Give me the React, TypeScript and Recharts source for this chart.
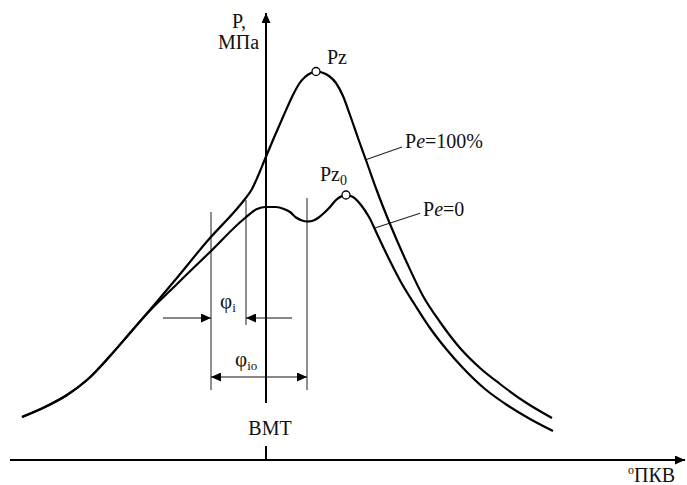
import { ComposedChart, Line, ReferenceDot, ReferenceLine, XAxis, YAxis } from "recharts";

// crank angle, degrees from TDC (ВМТ), and cylinder pressure, MPa
const fullLoadAngle = [
  -61, -55.25, -49.75, -44.75, -39, -34, -30.75, -22.5, -14, -7.75, -5.25, -3.5, -2, -0.25, 4.25,
  6.5, 8.25, 9.75, 11.25, 12.5, 14, 15.75, 17.5, 19.25, 21, 23, 25.25, 27.75, 31, 35.25, 39.25,
  43.5, 48.5, 53.5, 58.5, 64.75, 71.5,
];
const fullLoadP = [
  1.075, 1.325, 1.625, 2.0, 2.6, 3.175, 3.55, 4.525, 5.55, 6.225, 6.525, 6.775, 7.1, 7.525, 8.575,
  9.075, 9.4, 9.575, 9.675, 9.713, 9.688, 9.6, 9.425, 9.1, 8.625, 8.05, 7.425, 6.725, 5.9, 4.925,
  4.1, 3.45, 2.8, 2.3, 1.9, 1.45, 1.05,
];
const idleAngle = [
  -61, -55.25, -49.75, -44.75, -39, -34, -30.75, -22.5, -14, -5.25, -2.25, 0, 2.5, 4.5, 6, 7.5, 9,
  10.25, 11.5, 13, 14.5, 16, 17.5, 18.75, 20, 21.75, 23.75, 25.75, 28, 31, 34, 37.25, 41, 45.25,
  49.25, 54.75, 60.25, 66, 71.75,
];
const idleP = [
  1.075, 1.325, 1.625, 2.0, 2.6, 3.175, 3.55, 4.375, 5.2, 6.05, 6.275, 6.325, 6.325, 6.275, 6.2,
  6.063, 5.988, 5.963, 5.975, 6.05, 6.175, 6.325, 6.5, 6.588, 6.625, 6.575, 6.375, 6.075, 5.6,
  4.975, 4.4, 3.875, 3.3, 2.75, 2.3, 1.775, 1.375, 1.025, 0.725,
];

// marker angles: start of injection, start of combustion at full load and at idle
const injectionStart = -13.75;
const ignitionFull = -5;
const ignitionIdle = 10.25;

const fullLoad = fullLoadAngle.map((deg, i) => ({ deg, p: fullLoadP[i] }));
const idle = idleAngle.map((deg, i) => ({ deg, p: idleP[i] }));
const peakOf = (pts: { deg: number; p: number }[]) =>
  pts.reduce((best, pt) => (pt.p > best.p ? pt : best), pts[0]);
const pz = peakOf(fullLoad);
const pz0 = peakOf(idle.filter((pt) => pt.deg > 15));

const FONT = '"Liberation Serif", "Times New Roman", serif';

const seg =
  (width: number, color: string, start?: string, end?: string) =>
  (p: { x1?: number; y1?: number; x2?: number; y2?: number }) => (
    <line
      x1={p.x1}
      y1={p.y1}
      x2={p.x2}
      y2={p.y2}
      stroke={color}
      strokeWidth={width}
      markerStart={start ? `url(#${start})` : undefined}
      markerEnd={end ? `url(#${end})` : undefined}
    />
  );

const label =
  (content: React.ReactNode, anchor: "start" | "middle" = "start") =>
  (p: { cx?: number; cy?: number }) => (
    <text x={p.cx} y={p.cy} fontFamily={FONT} fontSize={20} fill="#111" textAnchor={anchor}>
      {content}
    </text>
  );

export default function App() {
  return (
    <div style={{ position: "absolute", left: 0, top: 0, background: "#fff" }}>
      <ComposedChart width={687} height={485} margin={{ top: 0, right: 0, bottom: 0, left: 0 }}>
        <defs>
          <marker
            id="tip"
            viewBox="0 0 10 9"
            refX="10"
            refY="4.5"
            markerWidth="10"
            markerHeight="9"
            markerUnits="userSpaceOnUse"
            orient="auto-start-reverse"
          >
            <path d="M0,0 L10,4.5 L0,9 Z" fill="#000" />
          </marker>
        </defs>
        <XAxis type="number" dataKey="deg" domain={[-66.5, 105.25]} allowDataOverflow hide />
        <YAxis type="number" dataKey="p" domain={[-0.625, 11.5]} allowDataOverflow hide />

        {/* axes */}
        <ReferenceLine segment={[{ x: -64, y: 0 }, { x: 104.75, y: 0 }]} shape={seg(2, "#000", undefined, "tip")} />
        <ReferenceLine segment={[{ x: 0, y: 1.425 }, { x: 0, y: 11.175 }]} shape={seg(2, "#000", undefined, "tip")} />
        <ReferenceLine segment={[{ x: 0, y: 0 }, { x: 0, y: 0.35 }]} shape={seg(2, "#000")} />

        {/* angle markers */}
        <ReferenceLine segment={[{ x: injectionStart, y: 1.75 }, { x: injectionStart, y: 6.2 }]} shape={seg(1.1, "#333")} />
        <ReferenceLine segment={[{ x: ignitionFull, y: 3.375 }, { x: ignitionFull, y: 6.5 }]} shape={seg(1.1, "#333")} />
        <ReferenceLine segment={[{ x: ignitionIdle, y: 1.75 }, { x: ignitionIdle, y: 6.55 }]} shape={seg(1.1, "#333")} />
        <ReferenceLine segment={[{ x: -25.75, y: 3.55 }, { x: injectionStart, y: 3.55 }]} shape={seg(1.2, "#111", undefined, "tip")} />
        <ReferenceLine segment={[{ x: 6.5, y: 3.55 }, { x: ignitionFull, y: 3.55 }]} shape={seg(1.2, "#111", undefined, "tip")} />
        <ReferenceLine segment={[{ x: injectionStart, y: 2.075 }, { x: ignitionIdle, y: 2.075 }]} shape={seg(1.2, "#111", "tip", "tip")} />

        {/* leaders */}
        <ReferenceLine segment={[{ x: 24.75, y: 7.5 }, { x: 34, y: 7.825 }]} shape={seg(1.1, "#222")} />
        <ReferenceLine segment={[{ x: 27.25, y: 5.8 }, { x: 38.5, y: 6.17 }]} shape={seg(1.1, "#222")} />

        <Line data={fullLoad} dataKey="p" type="monotone" stroke="#000" strokeWidth={2.2} dot={false} activeDot={false} isAnimationActive={false} />
        <Line data={idle} dataKey="p" type="monotone" stroke="#000" strokeWidth={2.2} dot={false} activeDot={false} isAnimationActive={false} />

        <ReferenceDot x={pz.deg} y={pz.p} r={4} fill="#fff" stroke="#000" strokeWidth={1.3} />
        <ReferenceDot x={pz0.deg} y={pz0.p} r={4} fill="#fff" stroke="#000" strokeWidth={1.3} />

        {/* texts */}
        <ReferenceDot x={-8.5} y={10.8} r={0} shape={label("P,")} />
        <ReferenceDot x={-12} y={10.275} r={0} shape={label("МПа")} />
        <ReferenceDot x={15.25} y={9.9} r={0} shape={label("Pz")} />
        <ReferenceDot
          x={34.75}
          y={7.8}
          r={0}
          shape={label(
            <>
              <tspan>P</tspan>
              <tspan fontStyle="italic">e</tspan>
              <tspan>=100%</tspan>
            </>,
          )}
        />
        <ReferenceDot
          x={13.5}
          y={6.975}
          r={0}
          shape={label(
            <>
              <tspan>Pz</tspan>
              <tspan fontSize={14} dy={4}>0</tspan>
            </>,
          )}
        />
        <ReferenceDot
          x={39.25}
          y={6.1}
          r={0}
          shape={label(
            <>
              <tspan>P</tspan>
              <tspan fontStyle="italic">e</tspan>
              <tspan>=0</tspan>
            </>,
          )}
        />
        <ReferenceDot
          x={-11.5}
          y={3.8}
          r={0}
          shape={label(
            <>
              <tspan fontSize={21}>φ</tspan>
              <tspan fontSize={13} dy={4}>i</tspan>
            </>,
          )}
        />
        <ReferenceDot
          x={-7.75}
          y={2.35}
          r={0}
          shape={label(
            <>
              <tspan fontSize={21}>φ</tspan>
              <tspan fontSize={13} dy={4}>io</tspan>
            </>,
          )}
        />
        <ReferenceDot x={1} y={0.625} r={0} shape={label("ВМТ", "middle")} />
        <ReferenceDot
          x={90.5}
          y={-0.55}
          r={0}
          shape={label(
            <>
              <tspan fontSize={12} dy={-8}>o</tspan>
              <tspan dy={8}>ПКВ</tspan>
            </>,
          )}
        />
      </ComposedChart>
    </div>
  );
}
